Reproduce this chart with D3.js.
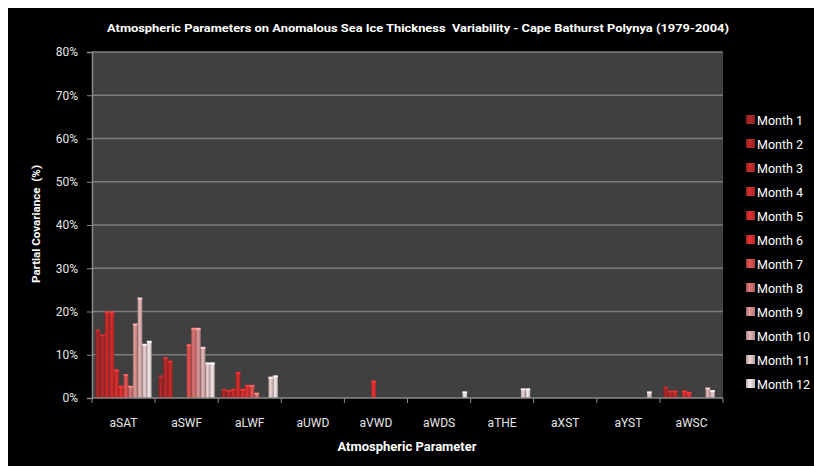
<!DOCTYPE html>
<html>
<head>
<meta charset="utf-8">
<script src="https://cdn.jsdelivr.net/npm/d3@7"></script>
<style>
  body { margin: 0; background: #fff; }
  text { font-family: Roboto, "Liberation Sans", sans-serif; }
</style>
</head>
<body>
<svg id="chart" width="814" height="466"></svg>
<script>
// values in %, one array per atmospheric parameter (Month 1..12)
var categories = ['aSAT', 'aSWF', 'aLWF', 'aUWD', 'aVWD', 'aWDS', 'aTHE', 'aXST', 'aYST', 'aWSC'];
var months = ['Month 1', 'Month 2', 'Month 3', 'Month 4', 'Month 5', 'Month 6',
              'Month 7', 'Month 8', 'Month 9', 'Month 10', 'Month 11', 'Month 12'];
var monthColors = ['#9e2424', '#aa2626', '#b82828', '#c02828', '#c82a2a', '#d02c2c',
                   '#cc4a4a', '#c86a6a', '#c88888', '#cca2a2', '#d4baba', '#dccfcf'];

var aSAT = [15.6, 14.5, 19.8, 19.8, 6.4, 2.6, 5.3, 2.6, 17.0, 23.0, 12.3, 13.0];
var aSWF = [5.0, 9.2, 8.4, 0, 0, 0, 12.2, 16.0, 16.0, 11.6, 8.0, 8.0];
var aLWF = [1.9, 1.6, 1.9, 5.8, 1.9, 2.8, 2.8, 1.0, 0, 0, 4.7, 5.0];
var aUWD = [0, 0, 0, 0, 0, 0, 0, 0, 0, 0, 0, 0];
var aVWD = [0, 0, 0, 0, 0, 3.8, 0, 0, 0, 0, 0, 0];
var aWDS = [0, 0, 0, 0, 0, 0, 0, 0, 0, 0, 0, 1.3];
var aTHE = [0, 0, 0, 0, 0, 0, 0, 0, 0, 0, 2.0, 2.0];
var aXST = [0, 0, 0, 0, 0, 0, 0, 0, 0, 0, 0, 0];
var aYST = [0, 0, 0, 0, 0, 0, 0, 0, 0, 0, 1.3, 0];
var aWSC = [2.4, 1.5, 1.5, 0, 1.5, 1.2, 0, 0, 0, 2.2, 1.6, 0];

var yTicks = [0, 10, 20, 30, 40, 50, 60, 70, 80];

var values = [aSAT, aSWF, aLWF, aUWD, aVWD, aWDS, aTHE, aXST, aYST, aWSC];

var plot = { left: 92, right: 723, top: 52, bottom: 398 };

var svg = d3.select('#chart');

// black chart area
svg.append('rect')
    .attr('x', 8)
    .attr('y', 8)
    .attr('width', 806)
    .attr('height', 458)
    .attr('fill', '#000');

var defs = svg.append('defs');
monthColors.forEach(function (c, i) {
    var g = defs.append('linearGradient')
        .attr('id', 'grad' + i)
        .attr('x1', 0).attr('x2', 1).attr('y1', 0).attr('y2', 0);
    g.append('stop').attr('offset', '0%').attr('stop-color', d3.color(c).darker(0.6));
    g.append('stop').attr('offset', '40%').attr('stop-color', d3.color(c).brighter(0.35));
    g.append('stop').attr('offset', '100%').attr('stop-color', d3.color(c).darker(0.4));
});

var x0 = d3.scaleBand()
    .domain(categories)
    .range([plot.left, plot.right]);

var bw = x0.bandwidth();
var gapHalf = bw * 0.75 / 13.5;

var x1 = d3.scaleBand()
    .domain(months)
    .range([gapHalf, bw - gapHalf]);

var y = d3.scaleLinear()
    .domain([0, 80])
    .range([plot.bottom, plot.top]);

// plot background
svg.append('rect')
    .attr('x', plot.left)
    .attr('y', plot.top)
    .attr('width', plot.right - plot.left)
    .attr('height', plot.bottom - plot.top)
    .attr('fill', '#404040');

// gridlines
svg.append('g')
    .selectAll('line')
    .data(yTicks.slice(1))
    .enter()
    .append('line')
    .attr('x1', plot.left)
    .attr('x2', plot.right)
    .attr('y1', function (d) { return y(d); })
    .attr('y2', function (d) { return y(d); })
    .attr('stroke', '#7c7c7c')
    .attr('stroke-width', 1.5);

// bars
var table = [];
categories.forEach(function (c, ci) {
    months.forEach(function (m, mi) {
        table.push({ cat: c, month: m, mi: mi, v: values[ci][mi] });
    });
});

var bars = svg.append('g')
    .selectAll('g')
    .data(table.filter(function (d) { return d.v > 0; }))
    .enter()
    .append('g')
    .attr('transform', function (d) { return 'translate(' + (x0(d.cat) + x1(d.month)) + ',0)'; });

bars.append('rect')
    .attr('x', 0)
    .attr('y', function (d) { return y(d.v); })
    .attr('width', x1.bandwidth())
    .attr('height', function (d) { return plot.bottom - y(d.v); })
    .attr('fill', function (d) { return 'url(#grad' + d.mi + ')'; });

bars.append('rect')
    .attr('x', 0)
    .attr('y', function (d) { return y(d.v) - 1; })
    .attr('width', x1.bandwidth())
    .attr('height', 2)
    .attr('fill', function (d) { return d3.color(monthColors[d.mi]).brighter(0.7); });

// y axis
var yAxis = svg.append('g')
    .attr('transform', 'translate(' + plot.left + ',0)')
    .call(d3.axisLeft(y)
        .tickValues(yTicks)
        .tickSize(5)
        .tickPadding(9)
        .tickFormat(function (d) { return d + '%'; }));

yAxis.select('.domain').attr('stroke', '#8a8a8a').attr('stroke-width', 1.5);
yAxis.selectAll('.tick line').attr('stroke', '#8a8a8a');
yAxis.selectAll('.tick text')
    .attr('fill', '#e6e6e6')
    .style('font-family', 'Roboto, sans-serif')
    .style('font-size', '12px');

// x axis line, ticks at category boundaries, labels at centres
svg.append('line')
    .attr('x1', plot.left)
    .attr('x2', plot.right)
    .attr('y1', plot.bottom)
    .attr('y2', plot.bottom)
    .attr('stroke', '#8a8a8a')
    .attr('stroke-width', 1.5);

svg.append('g')
    .selectAll('line')
    .data(categories.concat(['end']))
    .enter()
    .append('line')
    .attr('x1', function (d, i) { return plot.left + i * bw; })
    .attr('x2', function (d, i) { return plot.left + i * bw; })
    .attr('y1', plot.bottom)
    .attr('y2', plot.bottom + 5)
    .attr('stroke', '#8a8a8a');

svg.append('g')
    .selectAll('text')
    .data(categories)
    .enter()
    .append('text')
    .attr('x', function (d) { return x0(d) + bw / 2; })
    .attr('y', 427)
    .attr('text-anchor', 'middle')
    .attr('fill', '#e6e6e6')
    .style('font-size', '12px')
    .text(function (d) { return d; });

// titles
svg.append('text')
    .attr('x', 418)
    .attr('y', 32)
    .attr('text-anchor', 'middle')
    .attr('fill', '#fff')
    .attr('textLength', 622)
    .attr('lengthAdjust', 'spacingAndGlyphs')
    .style('font-size', '11.5px')
    .style('font-weight', 'bold')
    .style('white-space', 'pre')
    .text('Atmospheric Parameters on Anomalous Sea Ice Thickness  Variability - Cape Bathurst Polynya (1979-2004)');

svg.append('text')
    .attr('x', 407)
    .attr('y', 451)
    .attr('text-anchor', 'middle')
    .attr('fill', '#fff')
    .attr('textLength', 139)
    .attr('lengthAdjust', 'spacingAndGlyphs')
    .style('font-size', '12px')
    .style('font-weight', 'bold')
    .text('Atmospheric Parameter');

svg.append('text')
    .attr('transform', 'translate(40,224) rotate(-90)')
    .attr('text-anchor', 'middle')
    .attr('fill', '#fff')
    .attr('textLength', 118)
    .attr('lengthAdjust', 'spacingAndGlyphs')
    .style('font-size', '11.5px')
    .style('font-weight', 'bold')
    .style('white-space', 'pre')
    .text('Partial Covariance  (%)');

// legend
var legend = svg.append('g')
    .selectAll('g')
    .data(months)
    .enter()
    .append('g')
    .attr('transform', function (d, i) { return 'translate(746,' + (120 + i * 24) + ')'; });

legend.append('rect')
    .attr('x', 0)
    .attr('y', -5)
    .attr('width', 9)
    .attr('height', 9)
    .attr('fill', function (d, i) { return 'url(#grad' + i + ')'; });

legend.append('text')
    .attr('x', 11)
    .attr('y', 5)
    .attr('fill', '#fff')
    .style('font-size', '12.5px')
    .text(function (d) { return d; });
</script>
</body>
</html>
